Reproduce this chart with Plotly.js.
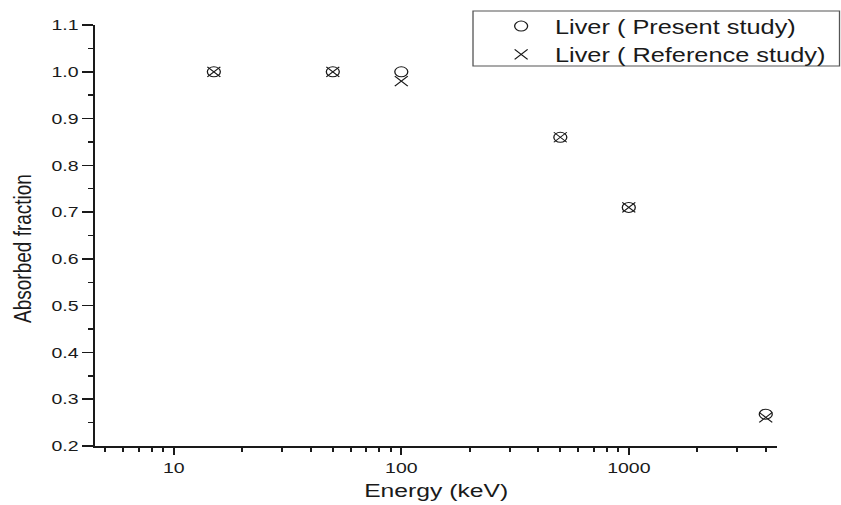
<!DOCTYPE html>
<html>
<head>
<meta charset="utf-8">
<script src="https://cdn.plot.ly/plotly-3.0.1.min.js"></script>
<style>
  html, body { margin: 0; padding: 0; background: #fff; overflow: hidden; }
  #wrap { width: 841px; height: 505px; overflow: hidden; }
  #chart { width: 647px; height: 505px; transform: scaleX(1.3); transform-origin: 0 0; }
</style>
</head>
<body>
<div id="wrap"><div id="chart"></div></div>
<script>
// Data
var energyKeV = [15, 50, 100, 500, 1000, 4000];
var presentStudy = [1.0, 1.0, 1.0, 0.86, 0.71, 0.268];
var referenceStudy = [1.0, 1.0, 0.98, 0.86, 0.71, 0.261];
var seriesNames = ['Liver ( Present study)', 'Liver ( Reference study)'];
var xTickVals = [10, 100, 1000];
var xTickText = ['10', '100', '1000'];
var xTitle = 'Energy (keV)';
var yTitle = 'Absorbed fraction';

var ink = '#1a1a1a';
var font = 'Arial, "Liberation Sans", sans-serif';

var traces = [
  {
    x: energyKeV, y: presentStudy, name: seriesNames[0],
    type: 'scatter', mode: 'markers',
    marker: { symbol: 'circle-open', size: 10, color: ink, line: { width: 1, color: ink } }
  },
  {
    x: energyKeV, y: referenceStudy, name: seriesNames[1],
    type: 'scatter', mode: 'markers',
    marker: { symbol: 'x-thin-open', size: 10, color: ink, line: { width: 1, color: ink } }
  }
];

var layout = {
  width: 647, height: 505,
  margin: { l: 73, r: 49, t: 25, b: 59, pad: 0, autoexpand: false },
  paper_bgcolor: '#fff', plot_bgcolor: '#fff',
  font: { family: font, color: ink, size: 15 },
  showlegend: true,
  legend: {
    x: 0.575, y: 1.043, xanchor: 'left', yanchor: 'top',
    bgcolor: 'rgba(0,0,0,0)', borderwidth: 0,
    font: { family: font, size: 19.5, color: ink },
    itemwidth: 42
  },
  xaxis: {
    type: 'log',
    range: [Math.log10(4.5), Math.log10(4500)],
    tickmode: 'array', tickvals: xTickVals, ticktext: xTickText,
    ticks: 'outside', ticklen: 7, tickwidth: 1.5, tickcolor: ink,
    minor: { ticks: 'outside', ticklen: 4, tickwidth: 1.5, tickcolor: ink, dtick: 'D1', showgrid: false },
    showline: true, linewidth: 1.8, linecolor: ink, mirror: false,
    showgrid: false, zeroline: false,
    tickfont: { family: font, size: 15, color: ink },
    title: { text: xTitle, font: { family: font, size: 19, color: ink }, standoff: 9 }
  },
  yaxis: {
    range: [0.2, 1.1],
    tick0: 0.2, dtick: 0.1, tickformat: '.1f',
    ticks: 'outside', ticklen: 8, tickwidth: 1.5, tickcolor: ink,
    minor: { ticks: 'outside', ticklen: 4, tickwidth: 1.5, tickcolor: ink, dtick: 0.05, showgrid: false },
    showline: true, linewidth: 1.6, linecolor: ink, mirror: false,
    showgrid: false, zeroline: false,
    tickfont: { family: font, size: 15, color: ink },
    title: { text: '' }
  },
  annotations: [
    {
      text: yTitle, xref: 'paper', yref: 'paper',
      x: -0.107, y: 0.47, xanchor: 'center', yanchor: 'middle',
      textangle: -90, showarrow: false,
      font: { family: font, size: 19, color: ink }
    }
  ],
  shapes: [
    {
      type: 'rect', xref: 'paper', yref: 'paper',
      x0: 0.554, x1: 1.091, y0: 0.9026, y1: 1.0333,
      line: { color: '#555', width: 1 }, fillcolor: 'rgba(0,0,0,0)', layer: 'above'
    }
  ]
};

Plotly.newPlot('chart', traces, layout, { staticPlot: true, displayModeBar: false });
</script>
</body>
</html>
